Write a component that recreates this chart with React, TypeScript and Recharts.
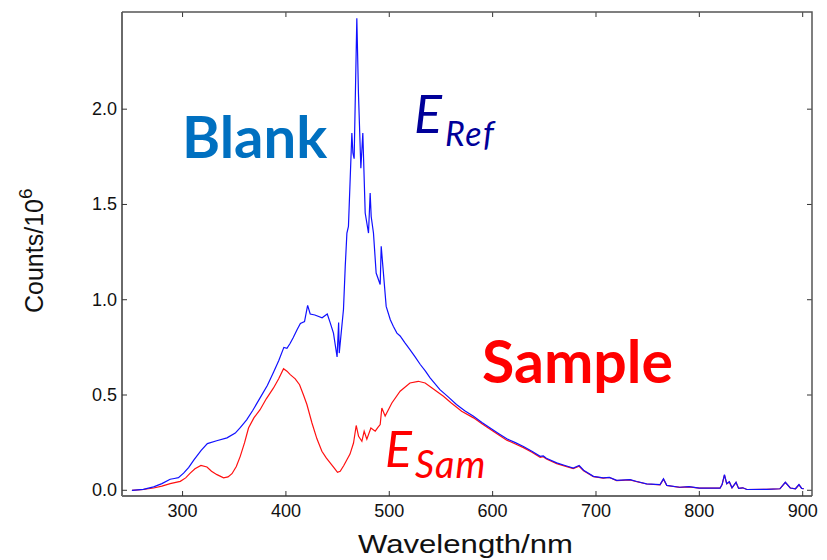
import React from "react";
import { LineChart, Line, XAxis, YAxis } from "recharts";

// ── Data ──────────────────────────────────────────────────────────────────────

const blankWavelengths = [
  251, 262, 272, 280, 288, 292, 296, 301, 306, 311, 318, 324, 333, 343, 351,
  356, 362, 368, 375, 382, 388, 393, 398, 401, 404, 407, 411, 414, 418, 421,
  423.5, 428, 435, 440, 442.8, 446, 449.5, 451, 451.6, 455.7, 457.4, 459,
  460.5, 463.8, 464.8, 466, 468.6, 470.2, 472.5, 474.4, 476.7, 479.9, 481.5,
  482.5, 484.7, 487.3, 491.2, 492.2, 493.8, 497, 501, 504, 507.4, 510.5, 515,
  520, 525, 530, 535, 539.5, 549, 557, 565, 573, 581.5, 590, 597.6, 606,
  613.7, 622, 629.8, 638, 646, 649, 652, 662, 670, 678, 683.7, 688, 697.5,
  707, 713, 720, 733, 739.5, 749, 762, 765.3, 768.5, 781, 790, 800, 820, 822,
  824.3, 826.5, 829, 831.6, 835.5, 838, 842, 846, 865, 878, 883.2, 888, 893,
  896.4, 899, 901,
];
const blankCounts = [
  0.0, 0.005, 0.018, 0.035, 0.058, 0.062, 0.066, 0.09, 0.12, 0.16, 0.21,
  0.245, 0.26, 0.275, 0.3, 0.33, 0.37, 0.42, 0.485, 0.55, 0.62, 0.68, 0.75,
  0.745, 0.77, 0.8, 0.845, 0.875, 0.885, 0.97, 0.925, 0.92, 0.905, 0.925,
  0.88, 0.825, 0.7, 0.88, 0.72, 0.95, 1.175, 1.35, 1.385, 1.875, 1.77, 1.74,
  2.477, 2.08, 1.69, 1.875, 1.455, 1.35, 1.56, 1.437, 1.35, 1.14, 1.08, 1.28,
  1.175, 0.965, 0.895, 0.86, 0.825, 0.81, 0.775, 0.738, 0.7, 0.66, 0.625,
  0.59, 0.528, 0.49, 0.45, 0.418, 0.388, 0.355, 0.327, 0.297, 0.27, 0.25,
  0.23, 0.205, 0.178, 0.18, 0.168, 0.144, 0.13, 0.117, 0.13, 0.105, 0.073,
  0.065, 0.068, 0.052, 0.056, 0.046, 0.034, 0.03, 0.06, 0.026, 0.016, 0.019,
  0.011, 0.011, 0.03, 0.082, 0.035, 0.045, 0.013, 0.042, 0.01, 0.013, 0.004,
  0.005, 0.008, 0.042, 0.012, 0.008, 0.03, 0.01, 0.008,
];

const sampleWavelengths = [
  251, 262, 272, 280, 288, 297.8, 303, 307.4, 312, 317.8, 323.6, 328, 333.3,
  339.7, 344, 347.8, 352, 355.8, 360, 363.8, 369, 375, 381, 388, 393, 397.7,
  401, 404.2, 409, 413.2, 417, 420.3, 425.2, 430, 434.8, 439, 442.8, 447,
  449.9, 452.5, 456, 459, 462, 465.4, 468, 470.3, 473.5, 475.7, 478.3, 482.2,
  486.4, 489, 491.2, 492.8, 496, 502.5, 510.5, 520, 528, 534.7, 542.7, 552.4,
  560, 570, 581.5, 590, 597.6, 606, 613.7, 622, 629.8, 638, 646, 649, 652,
  662, 670, 678, 683.7, 688, 697.5, 707, 713, 720, 733, 739.5, 749, 762,
  765.3, 768.5, 781, 790, 800, 820, 822, 824.3, 826.5, 829, 831.6, 835.5,
  838, 842, 846, 865, 878, 883.2, 888, 893, 896.4, 899, 901,
];
const sampleCounts = [
  0.0, 0.004, 0.012, 0.022, 0.035, 0.047, 0.065, 0.09, 0.113, 0.13, 0.122,
  0.1, 0.082, 0.065, 0.07, 0.087, 0.125, 0.178, 0.25, 0.327, 0.38, 0.423,
  0.48, 0.537, 0.585, 0.638, 0.625, 0.607, 0.585, 0.554, 0.5, 0.45, 0.353,
  0.27, 0.205, 0.17, 0.144, 0.115, 0.094, 0.1, 0.13, 0.16, 0.19, 0.248, 0.34,
  0.283, 0.257, 0.31, 0.268, 0.327, 0.31, 0.33, 0.345, 0.432, 0.39, 0.458,
  0.52, 0.563, 0.572, 0.563, 0.532, 0.493, 0.458, 0.415, 0.38, 0.348, 0.32,
  0.29, 0.263, 0.243, 0.224, 0.2, 0.173, 0.176, 0.164, 0.14, 0.127, 0.114,
  0.126, 0.103, 0.072, 0.064, 0.067, 0.051, 0.055, 0.045, 0.033, 0.029,
  0.058, 0.025, 0.015, 0.018, 0.011, 0.011, 0.03, 0.08, 0.034, 0.044, 0.013,
  0.041, 0.01, 0.013, 0.004, 0.005, 0.008, 0.041, 0.012, 0.008, 0.029, 0.01,
  0.008,
];

const xTicks = [300, 400, 500, 600, 700, 800, 900];
const yTicks = [0, 0.5, 1.0, 1.5, 2.0];

// ── Layout ────────────────────────────────────────────────────────────────────

const W = 827;
const H = 560;
const PLOT_LEFT = 122;
const PLOT_RIGHT = 812;
const PLOT_TOP = 12;
const PLOT_BOTTOM = 496;
const TICK_LEN = 5;

const BLANK_COLOR = "#1010ff";
const SAMPLE_COLOR = "#ff1010";
const AXIS_COLOR = "#6a6a6a";
const FONT = "'Liberation Sans', Arial, sans-serif";
const CALLOUT_FONT = "Lato, 'Open Sans', sans-serif";

const blankData = blankWavelengths.map((x, i) => ({ x, y: blankCounts[i] }));
const sampleData = sampleWavelengths.map((x, i) => ({ x, y: sampleCounts[i] }));

// Inward tick marks on bottom + top, label under the bottom axis
function XTick(props: any) {
  const { x, payload } = props;
  return (
    <g>
      <line x1={x} x2={x} y1={PLOT_BOTTOM} y2={PLOT_BOTTOM - TICK_LEN} stroke="#333" />
      <line x1={x} x2={x} y1={PLOT_TOP} y2={PLOT_TOP + TICK_LEN} stroke="#333" />
      <text
        x={x}
        y={PLOT_BOTTOM + 21}
        textAnchor="middle"
        fontSize={18}
        fontFamily={FONT}
        fill="#111"
      >
        {payload.value}
      </text>
    </g>
  );
}

// Inward tick marks on left + right, label left of the axis
function YTick(props: any) {
  const { y, payload } = props;
  return (
    <g>
      <line x1={PLOT_LEFT} x2={PLOT_LEFT + TICK_LEN} y1={y} y2={y} stroke="#333" />
      <line x1={PLOT_RIGHT} x2={PLOT_RIGHT - TICK_LEN} y1={y} y2={y} stroke="#333" />
      <text
        x={PLOT_LEFT - 5}
        y={y + 6}
        textAnchor="end"
        fontSize={18}
        fontFamily={FONT}
        fill="#111"
      >
        {Number(payload.value).toFixed(1)}
      </text>
    </g>
  );
}

export default function App() {
  return (
    <div
      style={{
        position: "absolute",
        left: 0,
        top: 0,
        width: W,
        height: H,
        background: "#fff",
      }}
    >
      <LineChart
        width={W}
        height={H}
        margin={{ top: PLOT_TOP, right: W - PLOT_RIGHT, left: 0, bottom: 0 }}
      >
        <XAxis
          dataKey="x"
          type="number"
          domain={[241.4, 909]}
          ticks={xTicks}
          allowDataOverflow
          height={H - PLOT_BOTTOM}
          tickLine={false}
          tick={<XTick />}
          axisLine={{ stroke: AXIS_COLOR, strokeWidth: 2 }}
        />
        <YAxis
          type="number"
          domain={[-0.03, 2.51]}
          ticks={yTicks}
          allowDataOverflow
          width={PLOT_LEFT}
          tickLine={false}
          tick={<YTick />}
          axisLine={{ stroke: AXIS_COLOR, strokeWidth: 2 }}
        />
        <Line
          data={sampleData}
          dataKey="y"
          stroke={SAMPLE_COLOR}
          strokeWidth={1.2}
          dot={false}
          type="linear"
          isAnimationActive={false}
        />
        <Line
          data={blankData}
          dataKey="y"
          stroke={BLANK_COLOR}
          strokeWidth={1.2}
          dot={false}
          type="linear"
          isAnimationActive={false}
        />
      </LineChart>

      {/* frame, titles and call-outs */}
      <svg
        width={W}
        height={H}
        style={{ position: "absolute", left: 0, top: 0, pointerEvents: "none" }}
      >
        <polyline
          points={`${PLOT_LEFT},${PLOT_TOP} ${PLOT_RIGHT},${PLOT_TOP} ${PLOT_RIGHT},${PLOT_BOTTOM}`}
          fill="none"
          stroke="#555"
          strokeWidth={1.5}
        />
        <text
          x={358}
          y={553}
          fontSize={25}
          fontFamily={FONT}
          fill="#111"
          textLength={215}
          lengthAdjust="spacingAndGlyphs"
        >
          Wavelength/nm
        </text>
        <text
          transform="translate(43,313) rotate(-90)"
          fontSize={25}
          fontFamily={FONT}
          fill="#111"
        >
          Counts/10
          <tspan fontSize={19} dy={-11}>
            6
          </tspan>
        </text>

        <text x={182} y={158} fontSize={58} fontWeight={700} fontFamily={CALLOUT_FONT} fill="#0070c0">
          Blank
        </text>
        <text x={482} y={383} fontSize={59} fontWeight={700} fontFamily={CALLOUT_FONT} fill="#ff0000">
          Sample
        </text>

        <text x={414} y={133} fontSize={52} fontStyle="italic" fontFamily={CALLOUT_FONT} fill="#000099">
          E
          <tspan fontSize={34} dx={3} dy={13} letterSpacing={1.5}>
            Ref
          </tspan>
        </text>
        <text x={385} y={467} fontSize={50} fontStyle="italic" fontFamily={CALLOUT_FONT} fill="#ff0000">
          E
          <tspan fontSize={38} dx={3} dy={11} letterSpacing={1}>
            Sam
          </tspan>
        </text>
      </svg>
    </div>
  );
}
